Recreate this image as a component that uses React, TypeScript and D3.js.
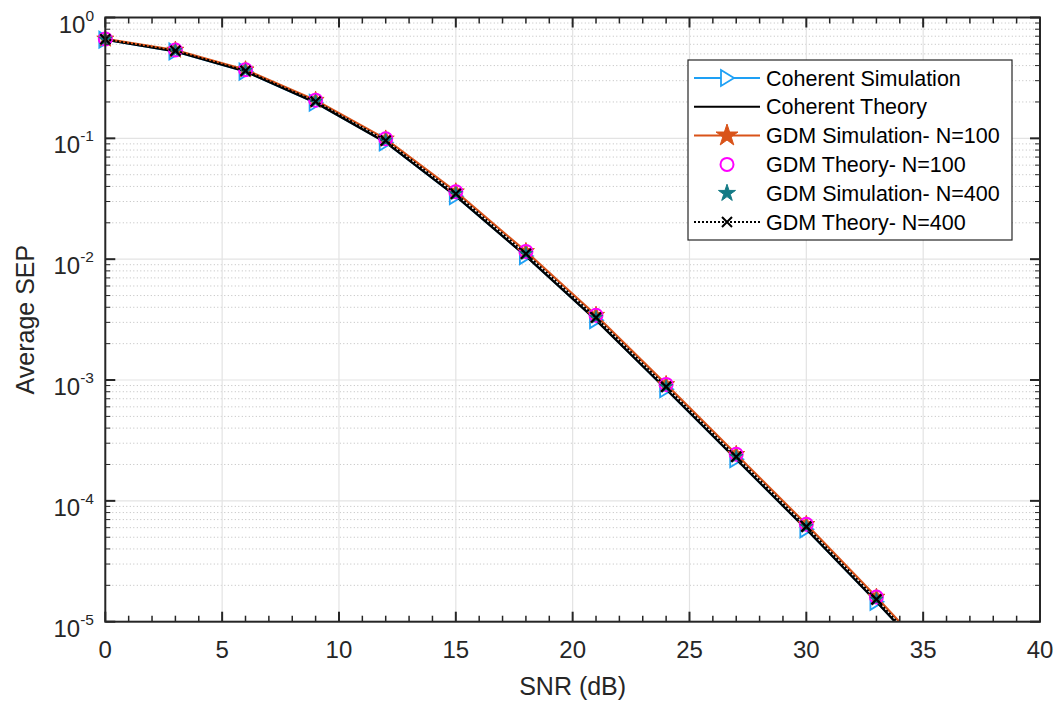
import React from "react";
import * as d3 from "d3";

const snr = [0, 3, 6, 9, 12, 15, 18, 21, 24, 27, 30, 33, 36];
const markerSnr = [0, 3, 6, 9, 12, 15, 18, 21, 24, 27, 30, 33];
const coherentSim = [0.655, 0.524, 0.357, 0.197, 0.0925, 0.0332, 0.0106, 0.00313, 0.00084, 0.000221, 0.0000582, 0.0000146, 0.0000035];
const coherentTheory = [0.655, 0.524, 0.357, 0.197, 0.0925, 0.0332, 0.0106, 0.00313, 0.00084, 0.000221, 0.0000582, 0.0000146, 0.0000035];
const gdmSim100 = [0.665, 0.538, 0.37, 0.207, 0.099, 0.0362, 0.0116, 0.00344, 0.00092, 0.000243, 0.000064, 0.000016, 0.0000038];
const gdmTheory100 = [0.665, 0.538, 0.37, 0.207, 0.099, 0.0362, 0.0116, 0.00344, 0.00092, 0.000243, 0.000064, 0.000016];
const gdmSim400 = [0.66, 0.531, 0.363, 0.202, 0.096, 0.0348, 0.0111, 0.00329, 0.00088, 0.000232, 0.0000612, 0.0000153];
const gdmTheory400 = [0.66, 0.531, 0.363, 0.202, 0.096, 0.0348, 0.0111, 0.00329, 0.00088, 0.000232, 0.0000612, 0.0000153, 0.0000036];

const xTicks = [0, 5, 10, 15, 20, 25, 30, 35, 40];
const yExponents = [0, -1, -2, -3, -4, -5];
const legendLabels = [
  "Coherent Simulation",
  "Coherent Theory",
  "GDM Simulation- N=100",
  "GDM Theory- N=100",
  "GDM Simulation- N=400",
  "GDM Theory- N=400",
];

const BLUE = "#1ea0f5";
const ORANGE = "#D95319";
const MAGENTA = "#ff00ff";
const TEAL = "#137a85";
const AX = "#262626";
const FONT = "'Liberation Sans', Arial, Helvetica, sans-serif";

const L = 105.3, R = 1040, T = 17.5, B = 621.7;

const triPath = "M-6,-8 L7,0 L-6,8 Z";
const xPath = "M-5,-5 L5,5 M-5,5 L5,-5";
const starPath = d3.symbol(d3.symbolStar, 90)() as string;
const bigStarPath = d3.symbol(d3.symbolStar, 150)() as string;
const smallStarPath = d3.symbol(d3.symbolStar, 55)() as string;

export default function App() {
  const x = d3.scaleLinear().domain([0, 40]).range([L, R]);
  const y = d3.scaleLog().domain([1e-5, 1]).range([B, T]);
  const line = (vals: number[]) =>
    d3.line<number>().x((_, i) => x(snr[i])).y((v) => y(v))(vals) as string;

  const minorX = d3.range(0, 41).filter((v) => v % 5 !== 0);
  const minorY: number[] = [];
  for (let e = -5; e < 0; e++) for (let k = 2; k <= 9; k++) minorY.push(k * Math.pow(10, e));

  const legX = 688, legY = 60, legW = 324, legH = 180;
  const rowY = (i: number) => 78 + i * 28.8;

  return (
    <svg width={1061} height={706} style={{ position: "absolute", left: 0, top: 0, background: "#fff" }} fontFamily={FONT}>
      <defs>
        <clipPath id="plotclip">
          <rect x={L} y={T} width={R - L} height={B - T} />
        </clipPath>
      </defs>
      <rect x={0} y={0} width={1061} height={706} fill="#fff" />
      {minorY.map((v, i) => (
        <line key={"my" + i} x1={L} x2={R} y1={y(v)} y2={y(v)} stroke="#bdbdbd" strokeWidth={1} strokeDasharray="1,2.5" />
      ))}
      {xTicks.map((t) => (
        <line key={"gx" + t} x1={x(t)} x2={x(t)} y1={T} y2={B} stroke="#e3e3e3" strokeWidth={1.2} />
      ))}
      {yExponents.map((e) => (
        <line key={"gy" + e} x1={L} x2={R} y1={y(Math.pow(10, e))} y2={y(Math.pow(10, e))} stroke="#e3e3e3" strokeWidth={1.2} />
      ))}

      <g clipPath="url(#plotclip)">
        <path d={line(coherentSim)} fill="none" stroke={BLUE} strokeWidth={2} />
      </g>
      {markerSnr.map((s, i) => (
        <path key={"tri" + i} d={triPath} transform={`translate(${x(s)},${y(coherentSim[i])})`} fill="none" stroke={BLUE} strokeWidth={1.8} />
      ))}
      <g clipPath="url(#plotclip)">
        <path d={line(coherentTheory)} fill="none" stroke="#000" strokeWidth={2.2} />
        <path d={line(gdmSim100)} fill="none" stroke={ORANGE} strokeWidth={2.2} />
      </g>
      {markerSnr.map((s, i) => (
        <path key={"os" + i} d={starPath} transform={`translate(${x(s)},${y(gdmSim100[i])})`} fill={ORANGE} stroke={ORANGE} strokeWidth={1} />
      ))}
      {markerSnr.map((s, i) => (
        <circle key={"mc" + i} cx={x(s)} cy={y(gdmTheory100[i])} r={6.5} fill="none" stroke={MAGENTA} strokeWidth={2} />
      ))}
      {markerSnr.map((s, i) => (
        <path key={"ts" + i} d={smallStarPath} transform={`translate(${x(s)},${y(gdmSim400[i])})`} fill={TEAL} stroke={TEAL} strokeWidth={0.8} />
      ))}
      <g clipPath="url(#plotclip)">
        <path d={line(gdmTheory400)} fill="none" stroke="#000" strokeWidth={2} strokeDasharray="2,2" />
      </g>
      {markerSnr.map((s, i) => (
        <path key={"xm" + i} d={xPath} transform={`translate(${x(s)},${y(gdmTheory400[i])})`} fill="none" stroke="#000" strokeWidth={2.2} />
      ))}

      <rect x={L} y={T} width={R - L} height={B - T} fill="none" stroke={AX} strokeWidth={2} />
      {xTicks.map((t) => (
        <g key={"xt" + t}>
          <line x1={x(t)} x2={x(t)} y1={B} y2={B - 10} stroke={AX} strokeWidth={2} />
          <line x1={x(t)} x2={x(t)} y1={T} y2={T + 10} stroke={AX} strokeWidth={2} />
          <text x={x(t)} y={658} textAnchor="middle" fontSize={24} fill={AX}>{t}</text>
        </g>
      ))}
      {minorX.map((t) => (
        <g key={"mx" + t}>
          <line x1={x(t)} x2={x(t)} y1={B} y2={B - 6} stroke={AX} strokeWidth={1.5} />
          <line x1={x(t)} x2={x(t)} y1={T} y2={T + 6} stroke={AX} strokeWidth={1.5} />
        </g>
      ))}
      {yExponents.map((e) => {
        const py = y(Math.pow(10, e));
        return (
          <g key={"yt" + e}>
            <line x1={L} x2={L + 10} y1={py} y2={py} stroke={AX} strokeWidth={2} />
            <line x1={R} x2={R - 10} y1={py} y2={py} stroke={AX} strokeWidth={2} />
            <text x={94} y={py + 15} textAnchor="end" fontSize={24} fill={AX}>
              10<tspan dy={-12} fontSize={15.5}>{String(e)}</tspan>
            </text>
          </g>
        );
      })}
      {minorY.map((v, i) => (
        <g key={"myt" + i}>
          <line x1={L} x2={L + 5} y1={y(v)} y2={y(v)} stroke={AX} strokeWidth={1} />
          <line x1={R} x2={R - 5} y1={y(v)} y2={y(v)} stroke={AX} strokeWidth={1} />
        </g>
      ))}

      <text x={(L + R) / 2} y={695} textAnchor="middle" fontSize={25} fill={AX}>SNR (dB)</text>
      <text transform={`translate(34,${(T + B) / 2}) rotate(-90)`} textAnchor="middle" fontSize={25} fill={AX}>Average SEP</text>

      <rect x={legX} y={legY} width={legW} height={legH} fill="#fff" stroke={AX} strokeWidth={1.2} />
      {legendLabels.map((lab, i) => {
        const ry = rowY(i);
        const cx = 727;
        return (
          <g key={"lg" + i}>
            {i === 0 && <line x1={694} x2={760} y1={ry} y2={ry} stroke={BLUE} strokeWidth={2} />}
            {i === 0 && <path d={triPath} transform={`translate(${cx},${ry})`} fill="#fff" stroke={BLUE} strokeWidth={1.8} />}
            {i === 1 && <line x1={694} x2={760} y1={ry} y2={ry} stroke="#000" strokeWidth={2} />}
            {i === 2 && <line x1={694} x2={760} y1={ry} y2={ry} stroke={ORANGE} strokeWidth={2} />}
            {i === 2 && <path d={bigStarPath} transform={`translate(${cx},${ry})`} fill={ORANGE} stroke={ORANGE} />}
            {i === 3 && <circle cx={cx} cy={ry} r={6.5} fill="none" stroke={MAGENTA} strokeWidth={2} />}
            {i === 4 && <path d={starPath} transform={`translate(${cx},${ry})`} fill={TEAL} stroke={TEAL} />}
            {i === 5 && <line x1={694} x2={760} y1={ry} y2={ry} stroke="#000" strokeWidth={2} strokeDasharray="2,2" />}
            {i === 5 && <path d={xPath} transform={`translate(${cx},${ry})`} fill="none" stroke="#000" strokeWidth={2} />}
            <text x={766} y={ry + 7.5} fontSize={21.5} fill="#000">{lab}</text>
          </g>
        );
      })}
    </svg>
  );
}
